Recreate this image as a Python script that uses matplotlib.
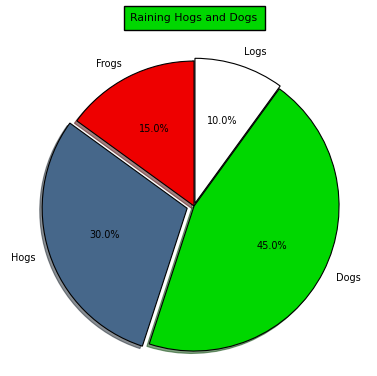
import matplotlib
matplotlib.use('Agg')
import matplotlib.pyplot as plt

labels = ['Frogs', 'Hogs', 'Dogs', 'Logs']
fracs = [15, 30, 45, 10]
explode = [0, 0.05, 0, 0.02]
colors = ['#ee0000', '#46678a', '#00d700', '#ffffff']

fig = plt.figure(figsize=(3.77, 3.76), dpi=100)
# square axes so the pie radius is about 145 px
ax = fig.add_axes([0.034, -0.030, 0.9615, 0.964])

ax.pie(fracs, explode=explode, labels=labels, colors=colors,
       autopct='%1.1f%%', startangle=90,
       shadow={'ox': -0.012, 'oy': -0.012},
       wedgeprops={'edgecolor': 'black', 'linewidth': 0.8},
       textprops={'fontsize': 7})
ax.set_aspect('equal')

fig.text(0.5146, 0.953, 'Raining Hogs and Dogs', fontsize=7.8, ha='center', va='center',
         bbox={'facecolor': '#00d700', 'pad': 5})

fig.savefig('out.png', dpi=100)
